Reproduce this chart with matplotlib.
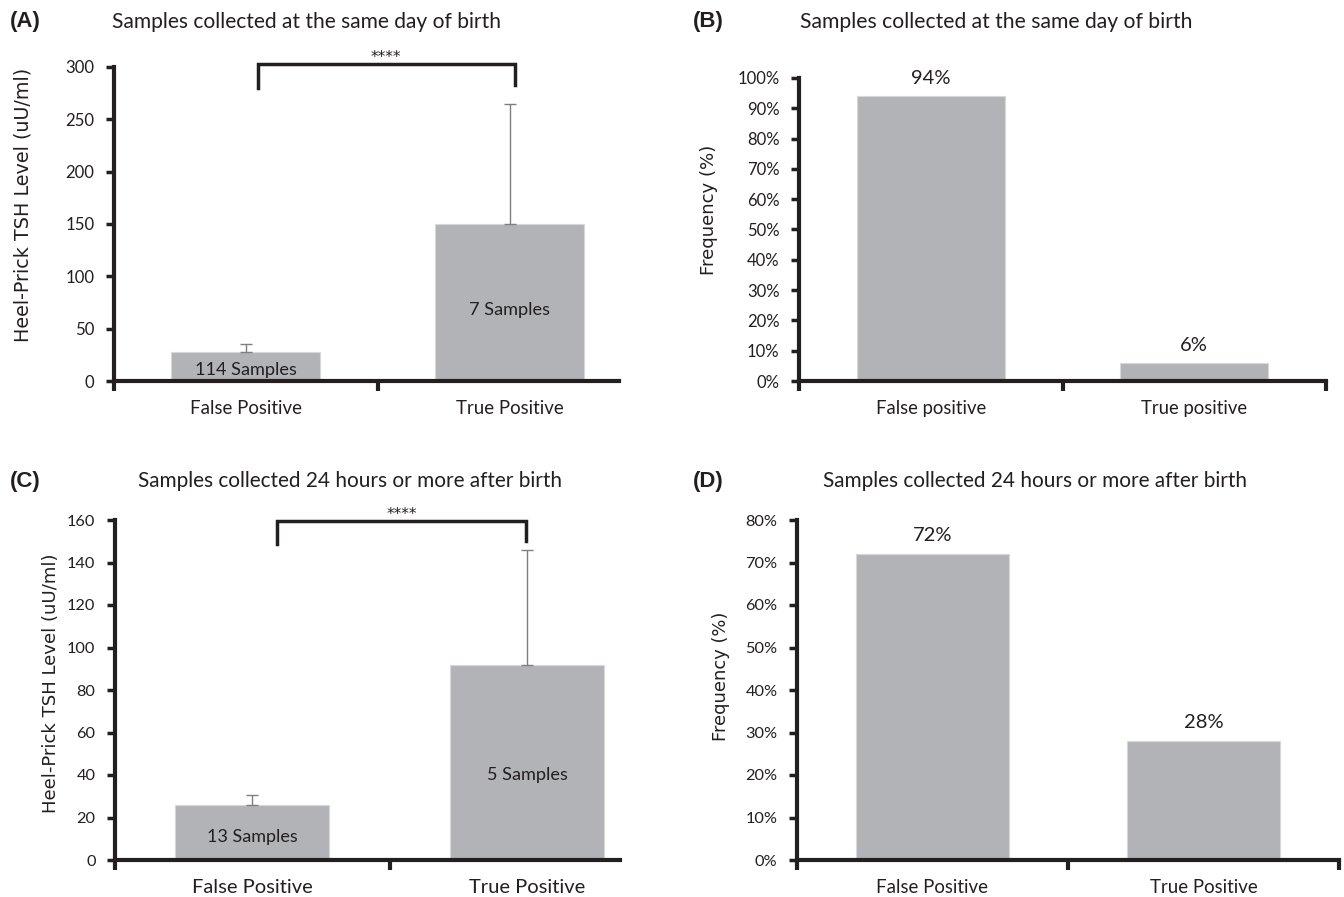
import matplotlib
matplotlib.use("Agg")
import matplotlib.pyplot as plt
from matplotlib.ticker import PercentFormatter, FixedLocator

# ---------------- data ----------------
cats_upper = ["False Positive", "True Positive"]
cats_freq_b = ["False positive", "True positive"]
cats_freq_d = ["False Positive", "True Positive"]

tsh_same_day = [27.5, 150]          # panel A means
tsh_same_day_err = [7.5, 115]       # panel A upper error
n_same_day = ["114 Samples", "7 Samples"]
n_same_day_ypos = [10.5, 68]

freq_same_day = [94, 6]             # panel B (%)

tsh_24h = [26, 92]                  # panel C means
tsh_24h_err = [4.5, 54]             # panel C upper error
n_24h = ["13 Samples", "5 Samples"]
n_24h_ypos = [10.8, 40]

freq_24h = [72, 28]                 # panel D (%)

titles = ["Samples collected at the same day of birth",
          "Samples collected at the same day of birth",
          "Samples collected 24 hours or more after birth",
          "Samples collected 24 hours or more after birth"]
panel_tags = ["(A)", "(B)", "(C)", "(D)"]
sig_label = "****"

# ---------------- style ----------------
W, H = 1344, 897
BAR = "#b2b3b6"
INK = "#231f20"
TXT = "Lato"
YLAB = "DejaVu Sans"

fig = plt.figure(figsize=(W / 100, H / 100), dpi=100)


def axes_px(l, r, b, t):
    return fig.add_axes([l / W, 1 - b / H, (r - l) / W, (b - t) / H])


def fx(x):
    return x / W


def fy(y):
    return 1 - y / H


def style(ax, ylim, yticks, cats, xlim, pct=False):
    for s in ("top", "right"):
        ax.spines[s].set_visible(False)
    for s in ("left", "bottom"):
        ax.spines[s].set_linewidth(3)
        ax.spines[s].set_color(INK)
        ax.spines[s].set_capstyle("projecting")
    ax.set_yticks(yticks)
    if pct:
        ax.yaxis.set_major_formatter(PercentFormatter(decimals=0))
    ax.tick_params(axis="y", length=6, width=2.5, color=INK, pad=8,
                   labelsize=12.5, labelcolor=INK)
    ax.set_xticks([-0.5, 0.5, 1.5])
    ax.set_xticklabels(["", "", ""])
    ax.tick_params(axis="x", which="major", length=7, width=3, color=INK)
    ax.xaxis.set_minor_locator(FixedLocator([0, 1]))
    ax.set_xticklabels(cats, minor=True)
    ax.tick_params(axis="x", which="minor", length=0, pad=14,
                   labelsize=14, labelcolor=INK)
    for lab in ax.get_yticklabels() + ax.get_xticklabels(minor=True):
        lab.set_fontfamily(TXT)
    ax.set_xlim(*xlim)
    ax.set_ylim(*ylim)


def bracket(ax, x0, x1, ytop, yl, yr, ystar):
    ax.plot([x0, x0, x1, x1], [yl, ytop, ytop, yr], color=INK, lw=2.5,
            clip_on=False, solid_joinstyle="miter")
    ax.text((x0 + x1) / 2, ystar, sig_label, ha="center", va="center",
            fontsize=11, color=INK, family=YLAB)


fits = []   # (text object, target pixel length, dimension)
xpos = [0, 1]

# ---- Panel A ----
axA = axes_px(114, 619, 381, 67)
axA.bar(xpos, tsh_same_day, width=0.565, color=BAR, edgecolor="#d8d8da",
        linewidth=0.8, zorder=2)
axA.errorbar(xpos, tsh_same_day, yerr=[[0, 0], tsh_same_day_err], fmt="none",
             ecolor="#7f7f7f", elinewidth=1, capsize=4, capthick=1, zorder=3)
style(axA, (0, 300), range(0, 301, 50), cats_upper, (-0.5, 1.414))
for x, t, y, w in zip(xpos, n_same_day, n_same_day_ypos, [102, 81]):
    fits.append((axA.text(x, y, t, ha="center", va="center", fontsize=13.5,
                          family=TXT, color=INK, zorder=4), w, "w"))
bracket(axA, 0.044, 1.02, 303, 280, 283, 309)

# ---- Panel B ----
axB = axes_px(799, 1326, 381, 78)
axB.bar(xpos, freq_same_day, width=0.56, color=BAR, edgecolor="#d8d8da",
        linewidth=0.8, zorder=2)
style(axB, (0, 100), range(0, 101, 10), cats_freq_b, (-0.5, 1.5), pct=True)
for x, v in zip(xpos, freq_same_day):
    axB.text(x, v + 3, f"{v}%", ha="center", va="bottom", fontsize=14.5,
             family=TXT, color=INK)

# ---- Panel C ----
axC = axes_px(115, 620, 860, 520)
axC.bar(xpos, tsh_24h, width=0.56, color=BAR, edgecolor="#d8d8da",
        linewidth=0.8, zorder=2)
axC.errorbar(xpos, tsh_24h, yerr=[[0, 0], tsh_24h_err], fmt="none",
             ecolor="#7f7f7f", elinewidth=1, capsize=4, capthick=1, zorder=3)
style(axC, (0, 160), range(0, 161, 20), cats_upper, (-0.5, 1.337))
for x, t, y, w in zip(xpos, n_24h, n_24h_ypos, [91, 81]):
    fits.append((axC.text(x, y, t, ha="center", va="center", fontsize=13.5,
                          family=TXT, color=INK, zorder=4), w, "w"))
bracket(axC, 0.091, 0.995, 159.6, 148.8, 150, 162.6)

# ---- Panel D ----
axD = axes_px(797, 1339, 860, 520)
axD.bar(xpos, freq_24h, width=0.565, color=BAR, edgecolor="#d8d8da",
        linewidth=0.8, zorder=2)
style(axD, (0, 80), range(0, 81, 10), cats_freq_d, (-0.5, 1.5), pct=True)
for x, v in zip(xpos, freq_24h):
    axD.text(x, v + 2.3, f"{v}%", ha="center", va="bottom", fontsize=14.5,
             family=TXT, color=INK)

# ---- titles, tags, y labels ----
title_pos = [(307, 22, 392), (996, 22, 393), (350, 481, 425), (1035, 481, 426)]
tag_pos = [(10, 22), (693, 22), (10, 481), (693, 481)]
for (x, y, w), t in zip(title_pos, titles):
    fits.append((fig.text(fx(x), fy(y), t, ha="center", va="center",
                          fontsize=15, family=TXT, color=INK), w, "w"))
for (x, y), t in zip(tag_pos, panel_tags):
    fits.append((fig.text(fx(x), fy(y), t, ha="left", va="center",
                          fontsize=14.5, family="Liberation Sans",
                          weight="bold", color=INK), 31, "w"))

ylabels = [("Heel-Prick TSH Level (uU/ml)", 23, 205, 275),
           ("Frequency (%)", 709, 210, 130),
           ("Heel-Prick TSH Level (uU/ml)", 51, 683, 260),
           ("Frequency (%)", 721, 676, 128)]
for t, x, y, L in ylabels:
    fits.append((fig.text(fx(x), fy(y), t, ha="center", va="center",
                          rotation=90, fontsize=12, family=YLAB, color=INK),
                 L, "h"))

# ---- fit font sizes to the measured pixel lengths ----
fig.canvas.draw()
r = fig.canvas.get_renderer()
for obj, target, dim in fits:
    bb = obj.get_window_extent(r)
    cur = bb.width if dim == "w" else bb.height
    obj.set_fontsize(obj.get_fontsize() * target / cur)

cat_targets = {axA: 112, axB: 111, axC: 121, axD: 112}
ytick_targets = {axA: ("300", 29), axB: ("100%", 42), axC: ("160", 28),
                 axD: ("80%", 32)}
for ax in (axA, axB, axC, axD):
    lab = ax.get_xticklabels(minor=True)[0]
    w = lab.get_window_extent(r).width
    ax.tick_params(axis="x", which="minor",
                   labelsize=lab.get_fontsize() * cat_targets[ax] / w)
    txt, tw = ytick_targets[ax]
    labs = [l for l in ax.get_yticklabels() if l.get_text() == txt]
    if labs:
        w = labs[0].get_window_extent(r).width
        ax.tick_params(axis="y", labelsize=labs[0].get_fontsize() * tw / w)

fig.savefig("out.png", dpi=100)
